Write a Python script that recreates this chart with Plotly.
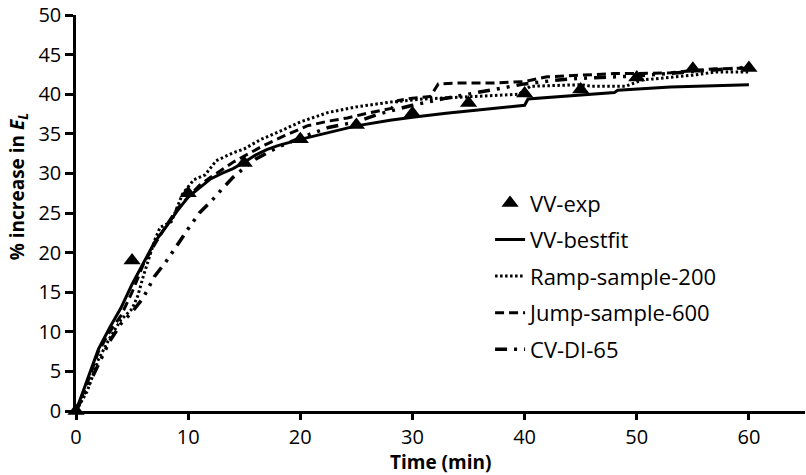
import plotly.graph_objects as go

# VV-exp (triangles)
exp_t = [0, 5, 10, 15, 20, 25, 30, 35, 40, 45, 50, 55, 60]
exp_y = [0, 19.0, 27.5, 31.3, 34.3, 36.1, 37.6, 38.9, 40.1, 40.6, 42.1, 43.2, 43.3]

# VV-bestfit (solid)
fit_t = [0, 1, 2, 3, 4, 5, 6, 7, 8, 9, 10, 11, 12, 13, 14, 15, 16, 17, 18, 20, 22, 25, 28, 30, 33, 35, 38, 40, 40.3, 45, 48, 48.3, 53, 60]
fit_y = [0, 4.0, 7.8, 10.5, 13.0, 16.0, 18.7, 21.3, 23.2, 25.2, 27.0, 28.2, 29.3, 30.0, 30.6, 31.4, 32.3, 33.0, 33.5, 34.3, 35.0, 36.0, 36.7, 37.1, 37.6, 37.9, 38.3, 38.6, 39.4, 39.9, 40.2, 40.5, 40.9, 41.2]

# Ramp-sample-200 (dotted)
ramp_t = [0, 1, 2, 3, 4, 5, 5.5, 6, 7, 7.5, 8.5, 9.5, 10.5, 11.5, 12.5, 14, 15, 16.5, 18, 20, 22.5, 25, 28, 31, 34, 37, 39.5, 40.5, 45, 46, 49, 50.5, 53, 55, 57, 60]
ramp_y = [0, 2.5, 6.5, 9.2, 11.5, 12.9, 14.5, 17.0, 21.5, 23.2, 23.9, 27.4, 29.2, 29.8, 31.6, 32.6, 33.1, 34.3, 35.2, 36.5, 37.7, 38.4, 39.0, 39.4, 39.6, 39.8, 40.0, 41.0, 41.2, 41.0, 41.0, 41.8, 42.1, 42.4, 42.8, 42.8]

# Jump-sample-600 (dashed)
jump_t = [0, 1, 2, 3, 4, 5, 6, 7, 8, 9, 10, 11, 12, 13, 14, 15, 16.7, 18.5, 20.6, 22.5, 24.2, 26, 28.1, 28.7, 30, 31.6, 32.3, 34, 37, 40, 42, 45, 48, 50, 53, 55, 57, 60]
jump_y = [0, 3.5, 7.5, 10.0, 12.0, 15.0, 18.5, 21.0, 23.3, 25.5, 27.0, 28.5, 29.5, 30.5, 31.4, 32.2, 33.5, 34.7, 36.0, 36.6, 37.0, 37.6, 38.2, 39.2, 39.5, 39.7, 41.3, 41.4, 41.4, 41.6, 42.2, 42.4, 42.6, 42.6, 42.7, 43.0, 43.2, 43.3]

# CV-DI-65 (dash-dot)
cv_t = [0, 1, 2, 3, 4, 5, 6, 7, 8, 9, 10, 11, 12, 13, 14, 15, 16, 18, 20, 22.5, 25, 27, 30, 33, 35, 38, 40, 43, 45, 50, 55, 60]
cv_y = [0, 3.0, 6.0, 8.8, 11.0, 12.5, 14.3, 17.0, 18.8, 21.0, 23.0, 25.0, 26.4, 28.0, 29.5, 30.7, 31.8, 33.3, 34.5, 35.8, 36.5, 37.5, 38.6, 39.5, 40.0, 40.8, 41.3, 41.8, 42.0, 42.3, 42.8, 43.4]

x_ticks = [0, 10, 20, 30, 40, 50, 60]
y_ticks = [0, 5, 10, 15, 20, 25, 30, 35, 40, 45, 50]

FONT = "Open Sans"
fs_tick = 20
fs_leg = 22
fs_title = 19

fig = go.Figure()
fig.add_trace(go.Scatter(x=exp_t, y=exp_y, mode="markers", name="VV-exp",
                         marker=dict(symbol="triangle-up", size=15, color="black"),
                         legendgroup="a", cliponaxis=False))
fig.add_trace(go.Scatter(x=fit_t, y=fit_y, mode="lines", name="VV-bestfit",
                         line=dict(color="black", width=3, dash="solid"), legendgroup="b"))
fig.add_trace(go.Scatter(x=ramp_t, y=ramp_y, mode="lines", name="Ramp-sample-200",
                         line=dict(color="black", width=3, dash="2.5px,2.5px"), legendgroup="c"))
fig.add_trace(go.Scatter(x=jump_t, y=jump_y, mode="lines", name="Jump-sample-600",
                         line=dict(color="black", width=3, dash="9px,5px"), legendgroup="d"))
fig.add_trace(go.Scatter(x=cv_t, y=cv_y, mode="lines", name="CV-DI-65",
                         line=dict(color="black", width=3.5, dash="12px,7px,3px,7px,3px,7px"), legendgroup="e"))

fig.update_layout(
    width=806, height=475,
    margin=dict(l=76, r=1, t=11, b=64),
    paper_bgcolor="white", plot_bgcolor="white",
    font=dict(family=FONT, size=fs_tick, color="black"),
    showlegend=True,
    legend=dict(x=0.568, y=0.578, xanchor="left", yanchor="top",
                traceorder="grouped", tracegroupgap=5,
                bgcolor="rgba(0,0,0,0)", font=dict(size=fs_leg)),
    xaxis=dict(range=[0, 65], tickvals=x_ticks, showline=True, linecolor="black", linewidth=2.5,
               ticks="outside", ticklen=6, tickwidth=2.5, tickcolor="black",
               showgrid=False, zeroline=False, tickfont=dict(size=fs_tick),
               ticklabeloverflow="allow"),
    yaxis=dict(range=[0, 50], tickvals=y_ticks, showline=True, linecolor="black", linewidth=2.5,
               ticks="outside", ticklen=8, tickwidth=2.5, tickcolor="black",
               showgrid=False, zeroline=False, tickfont=dict(size=fs_tick),
               ticklabeloverflow="allow"),
    annotations=[
        dict(text="<b>Time (min)</b>", xref="paper", yref="paper", x=0.5, y=-0.13,
             xanchor="center", yanchor="middle", showarrow=False, font=dict(size=fs_title)),
        dict(text="<b>% increase in <i>E</i><sub><i>L</i></sub></b>", xref="paper", yref="paper",
             x=-0.1015, y=0.565, xanchor="left", yanchor="middle", textangle=-90,
             showarrow=False, font=dict(size=fs_title)),
    ],
)

fig.write_html("out.html", config={"displayModeBar": False},
               post_script="document.body.style.margin='0';document.body.style.padding='0';")
